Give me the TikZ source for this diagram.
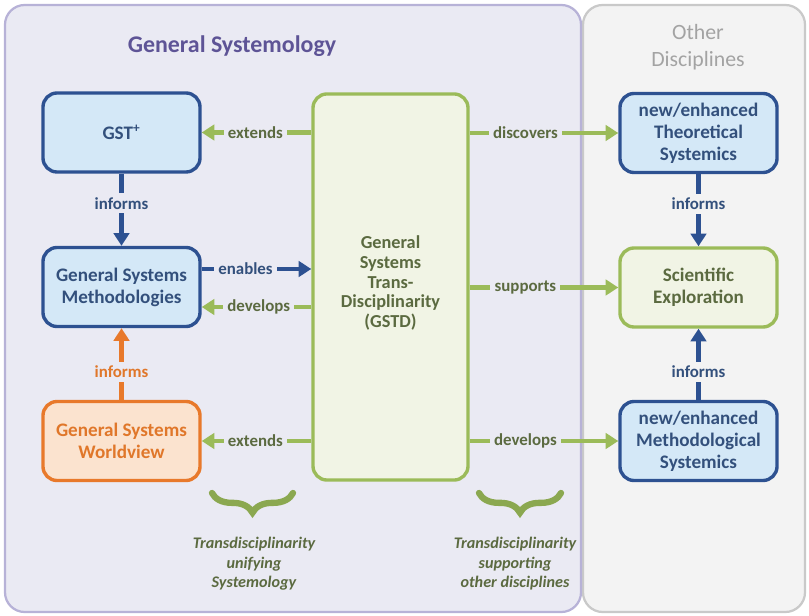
\documentclass[tikz,border=0pt]{standalone}
\usepackage{fontspec}
\setmainfont{Carlito}
\usepackage{xcolor}
\usetikzlibrary{positioning, calc, arrows.meta, decorations.pathreplacing}

\definecolor{panelL}{HTML}{EAEAF3}
\definecolor{panelLb}{HTML}{B7B2D7}
\definecolor{panelR}{HTML}{F3F3F3}
\definecolor{panelRb}{HTML}{C9C9C9}
\definecolor{bBlue}{HTML}{2D5191}
\definecolor{fBlue}{HTML}{D4E8F7}
\definecolor{tBlue}{HTML}{33507C}
\definecolor{bGreen}{HTML}{9BBB59}
\definecolor{fGreen}{HTML}{F1F4E5}
\definecolor{tGreen}{HTML}{5B6A40}
\definecolor{bOrange}{HTML}{E8792B}
\definecolor{fOrange}{HTML}{FBE3CF}
\definecolor{tOrange}{HTML}{E0772A}
\definecolor{tPurple}{HTML}{5E5496}
\definecolor{tGray}{HTML}{A3A3A3}

\newcommand{\boxfont}{\fontsize{13.6}{15.6}\selectfont\bfseries}
\newcommand{\lblfont}{\fontsize{12}{13}\selectfont\bfseries}

\begin{document}
\begin{tikzpicture}[x=0.025cm, y=-0.025cm,
  box/.style={line width=2.4pt, rounded corners=10pt, minimum width=3.925cm,
    minimum height=1.975cm, align=center, font=\boxfont},
  bluebox/.style={box, draw=bBlue, fill=fBlue, text=tBlue},
  greenbox/.style={box, draw=bGreen, fill=fGreen, text=tGreen},
  orangebox/.style={box, draw=bOrange, fill=fOrange, text=tOrange},
  arr/.style={line width=3.2pt, -{Triangle[length=9pt,width=11pt]}},
  lbl/.style={fill=panelL, inner sep=3pt, font=\lblfont},
  brc/.style={draw=bGreen!90!black, line width=4.5pt, line cap=round, decorate,
    decoration={brace, mirror, amplitude=14pt, aspect=0.5}},
  note/.style={align=center, text=tGreen, font=\fontsize{11.5}{13.8}\selectfont\bfseries\itshape}
]
  \useasboundingbox (0,0) rectangle (809,616);
  % Panels
  \draw[line width=1.6pt, draw=panelRb, fill=panelR, rounded corners=14pt] (583,5) rectangle (805,612);
  \draw[line width=1.6pt, draw=panelLb, fill=panelL, rounded corners=14pt] (5,5) rectangle (581,612);
  \node[text=tPurple, font=\fontsize{17}{20}\selectfont\bfseries] (title) at (232,46) {General Systemology};
  \node[text=tGray, align=center, font=\fontsize{15.5}{19.5}\selectfont] (other) at (698,47) {Other\\Disciplines};

  % Boxes
  \node[bluebox] (GST) at (121.5,132.5) {GST\textsuperscript{+}};
  \node[bluebox] (GSM) at (121.5,287) {General Systems\\Methodologies};
  \node[orangebox] (GSW) at (121.5,441) {General Systems\\Worldview};
  \node[greenbox, minimum width=3.875cm, minimum height=9.65cm] (GSTD) at (390.5,287) {};
  \node[text=tGreen, align=center, font=\fontsize{13}{14.2}\selectfont\bfseries] (GSTDtxt) at (390.5,283)
    {General\\Systems\\Trans-\\Disciplinarity\\(GSTD)};
  \node[bluebox] (TS) at (698.5,133) {new/enhanced\\Theoretical\\Systemics};
  \node[greenbox] (SE) at (698.5,287.5) {Scientific\\Exploration};
  \node[bluebox] (MS) at (698.5,441) {new/enhanced\\Methodological\\Systemics};

  % Left side connectors
  \draw[arr, bGreen] (GSTD.west |- GST.east) -- (GST.east)
    node[lbl, text=tGreen, pos=0.51] {extends};
  \draw[arr, bBlue] (GST.south) -- (GSM.north)
    node[lbl, text=tBlue, pos=0.41] {informs};
  \draw[arr, bBlue] ($(GSM.east)+(0,-18)$) -- ($(GSTD.west |- GSM.east)+(0,-18)$)
    node[lbl, text=tBlue, pos=0.4] {enables};
  \draw[arr, bGreen] ($(GSTD.west |- GSM.east)+(0,20)$) -- ($(GSM.east)+(0,20)$)
    node[lbl, text=tGreen, pos=0.48] {develops};
  \draw[arr, bOrange] (GSW.north) -- (GSM.south)
    node[lbl, text=tOrange, pos=0.39] {informs};
  \draw[arr, bGreen] (GSTD.west |- GSW.east) -- (GSW.east)
    node[lbl, text=tGreen, pos=0.51] {extends};

  % Right side connectors
  \draw[arr, bGreen] (GSTD.east |- TS.west) -- (TS.west)
    node[lbl, text=tGreen, pos=0.375] {discovers};
  \draw[arr, bGreen] (GSTD.east |- SE.west) -- (SE.west)
    node[lbl, text=tGreen, pos=0.375] {supports};
  \draw[arr, bGreen] (GSTD.east |- MS.west) -- (MS.west)
    node[lbl, text=tGreen, pos=0.375] {develops};
  \draw[arr, bBlue] (TS.south) -- (SE.north)
    node[lbl, fill=panelR, text=tBlue, pos=0.41] {informs};
  \draw[arr, bBlue] (MS.north) -- (SE.south)
    node[lbl, fill=panelR, text=tBlue, pos=0.39] {informs};

  % Braces and notes
  \draw[brc] (212,493) -- (293,493);
  \draw[brc] (479,493) -- (561,493);
  \node[note] (noteL) at (254,564) {Transdisciplinarity\\unifying\\Systemology};
  \node[note] (noteR) at (515,564) {Transdisciplinarity\\supporting\\other disciplines};
\end{tikzpicture}
\end{document}
